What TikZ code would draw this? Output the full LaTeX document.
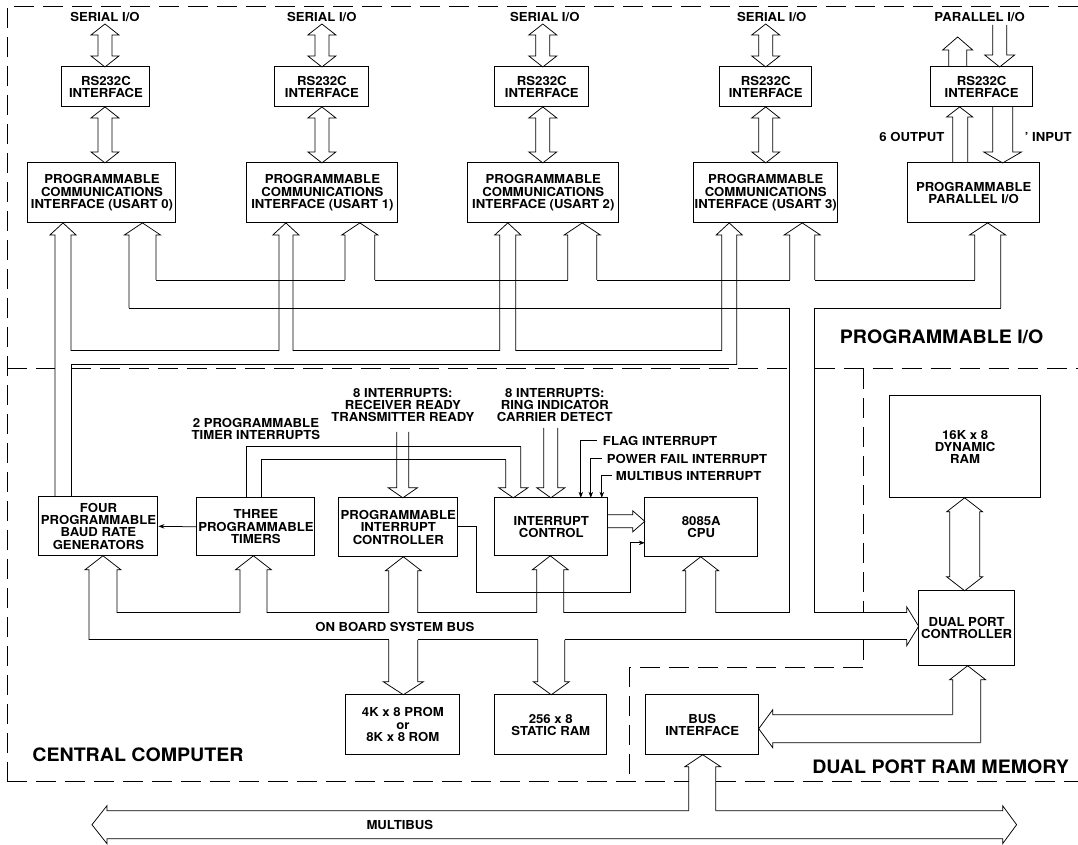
\documentclass[tikz,border=0pt]{standalone}
\usepackage{fontspec}
\setmainfont{TeX Gyre Heros}[BoldFeatures={FakeStretch=1.06}]
\usetikzlibrary{arrows.meta}
\newcommand{\dgmtxt}{\bfseries\fontsize{12.4}{12.3}\selectfont}
\newcommand{\dgmbig}{\bfseries\fontsize{18.5}{20}\selectfont}
% hollow up arrow: cx, tip y, half head width, head length, shaft left x, shaft right x, left end y, right end y
\newcommand{\uparr}[8]{\draw[bus] (#5,#7) -- (#5,{#2+#4}) -- ({#1-#3},{#2+#4}) -- (#1,#2) -- ({#1+#3},{#2+#4}) -- (#6,{#2+#4}) -- (#6,#8);}
\newcommand{\downarr}[8]{\draw[bus] (#5,#7) -- (#5,{#2-#4}) -- ({#1-#3},{#2-#4}) -- (#1,#2) -- ({#1+#3},{#2-#4}) -- (#6,{#2-#4}) -- (#6,#8);}
% hollow double vertical arrow: cx, top tip, bottom tip, half head width, head length, half shaft width
\newcommand{\dvarr}[6]{\draw[bus] (#1,#2) -- ({#1+#4},{#2+#5}) -- ({#1+#6},{#2+#5}) -- ({#1+#6},{#3-#5}) -- ({#1+#4},{#3-#5}) -- (#1,#3) -- ({#1-#4},{#3-#5}) -- ({#1-#6},{#3-#5}) -- ({#1-#6},{#2+#5}) -- ({#1-#4},{#2+#5}) -- cycle;}
\tikzset{
 box/.style={draw, line width=1pt, align=center, inner sep=0pt, font=\dgmtxt},
 lbl/.style={align=center, inner sep=0pt, font=\dgmtxt},
 big/.style={inner sep=0pt, font=\dgmbig},
 bus/.style={line width=0.75pt},
 dsh/.style={line width=0.8pt, dash pattern=on 20pt off 9pt},
 sarr/.style={line width=0.75pt, -{Stealth[length=6pt,width=4.5pt]}}
}
\begin{document}
\begin{tikzpicture}[x=1pt,y=-1pt]
\fill[white] (0,0) rectangle (1078,845);

% ---------------- boxes ----------------
\node[box, minimum width=88, minimum height=40] (rs1) at (106,87) {RS232C\\INTERFACE};
\node[box, minimum width=94, minimum height=40] (rs2) at (322,87) {RS232C\\INTERFACE};
\node[box, minimum width=94, minimum height=40] (rs3) at (542,87) {RS232C\\INTERFACE};
\node[box, minimum width=92, minimum height=40] (rs4) at (766,87) {RS232C\\INTERFACE};
\node[box, minimum width=102, minimum height=40] (rs5) at (982,87) {RS232C\\INTERFACE};

\node[box, minimum width=148, minimum height=60] (pci1) at (102,193) {PROGRAMMABLE\\COMMUNICATIONS\\INTERFACE (USART 0)};
\node[box, minimum width=151, minimum height=60] (pci2) at (322.5,193) {PROGRAMMABLE\\COMMUNICATIONS\\INTERFACE (USART 1)};
\node[box, minimum width=151, minimum height=60] (pci3) at (543.5,193) {PROGRAMMABLE\\COMMUNICATIONS\\INTERFACE (USART 2)};
\node[box, minimum width=144, minimum height=60] (pci4) at (766,193) {PROGRAMMABLE\\COMMUNICATIONS\\INTERFACE (USART 3)};
\node[box, minimum width=132, minimum height=60] (ppi) at (974,193) {PROGRAMMABLE\\PARALLEL I/O};

\node[box, minimum width=119, minimum height=59] (baud) at (98.5,526.5) {FOUR\\PROGRAMMABLE\\BAUD RATE\\GENERATORS};
\node[box, minimum width=118, minimum height=58] (timers) at (256,527) {THREE\\PROGRAMMABLE\\TIMERS};
\node[box, minimum width=119, minimum height=59] (pic) at (398.5,527.5) {PROGRAMMABLE\\INTERRUPT\\CONTROLLER};
\node[box, minimum width=113, minimum height=58] (ic) at (551.5,527) {INTERRUPT\\CONTROL};
\node[box, minimum width=113, minimum height=59] (cpu) at (701.5,527.5) {8085A\\CPU};
\node[box, minimum width=114, minimum height=60] (prom) at (403,725) {4K x 8 PROM\\or\\8K x 8 ROM};
\node[box, minimum width=112, minimum height=60] (sram) at (551,725) {256 x 8\\STATIC RAM};
\node[box, minimum width=113, minimum height=60] (busif) at (702.5,725) {BUS\\INTERFACE};
\node[box, minimum width=96, minimum height=75] (dpc) at (967,628.5) {DUAL PORT\\CONTROLLER};
\node[box, minimum width=151, minimum height=102] (dram) at (965.5,447) {16K x 8\\DYNAMIC\\RAM};

% ---------------- labels ----------------
\node[lbl] (s1) at (105,17) {SERIAL I/O};
\node[lbl] (s2) at (322,17) {SERIAL I/O};
\node[lbl] (s3) at (545,17) {SERIAL I/O};
\node[lbl] (s4) at (772,17) {SERIAL I/O};
\node[lbl] (pio) at (980,17) {PARALLEL I/O};
\node[lbl, anchor=east] (outl) at (945,137) {6 OUTPUT};
\node[lbl, anchor=west] (inl) at (1025,137) {' INPUT};
\node[lbl] (tintl) at (256,429) {2 PROGRAMMABLE\\TIMER INTERRUPTS};
\node[lbl] (rxl) at (403,405) {8 INTERRUPTS:\\RECEIVER READY\\TRANSMITTER READY};
\node[lbl] (ril) at (555,405) {8 INTERRUPTS:\\RING INDICATOR\\CARRIER DETECT};
\node[lbl, anchor=west] (flagl) at (603,441) {FLAG INTERRUPT};
\node[lbl, anchor=west] (pfl) at (607,459) {POWER FAIL INTERRUPT};
\node[lbl, anchor=west] (mbl) at (616,476) {MULTIBUS INTERRUPT};
\node[lbl] (obl) at (395,627) {ON BOARD SYSTEM BUS};
\node[lbl] (mbusl) at (400,825) {MULTIBUS};
\node[big] (pgio) at (942,337) {PROGRAMMABLE I/O};
\node[big] (cc) at (138,755) {CENTRAL COMPUTER};
\node[big] (dpr) at (941,767) {DUAL PORT RAM MEMORY};

% ---------------- region borders ----------------
\draw[dsh] (7,782) -- (7,6) -- (1078,6);
\draw[dsh] (7,782) -- (689,782);
\draw[dsh] (716,782) -- (1078,782);
\draw[dsh] (7,369) -- (55,369);
\draw[dsh] (71,369) -- (790,369);
\draw[dsh] (815,369) -- (1078,369);
\draw[dsh] (864,369) -- (864,613);
\draw[dsh] (864,640) -- (864,668) -- (630,668) -- (630,782);

% ---------------- serial links ----------------
\foreach \c in {105,322,543,766} {
  \dvarr{\c}{24}{67}{14}{11}{7}
  \dvarr{\c}{107}{163}{14}{11}{7}
}
% parallel links
\uparr{958}{37}{15}{13}{949}{967}{67}{67}
\downarr{1000}{67}{15}{12}{993}{1007}{25}{25}
\uparr{960}{107}{13}{10}{953}{968}{163}{163}
\downarr{1003}{163}{19}{11}{993}{1013}{107}{107}

% ---------------- I/O buses ----------------
\uparr{63}{223}{13}{12}{55}{71}{497}{351}
\uparr{142.5}{223}{18}{12}{129}{156}{308}{280}
\uparr{286}{223}{13}{12}{279}{293}{351}{351}
\uparr{360}{223}{18}{12}{345}{375}{280}{280}
\uparr{508}{223}{13}{12}{500}{516}{351}{351}
\uparr{582.5}{223}{18}{12}{568}{597}{280}{280}
\uparr{729.5}{223}{13}{12}{722}{737}{351}{365}
\uparr{802.5}{223}{18}{12}{790}{815}{280}{280}
\uparr{988}{223}{18}{12}{975}{1001}{280}{308}
% wide data bus
\draw[bus] (156,280) -- (345,280) (375,280) -- (568,280) (597,280) -- (790,280) (815,280) -- (975,280);
\draw[bus] (129,308) -- (790,308) -- (790,613);
\draw[bus] (1001,308) -- (815,308) -- (815,613);
% narrow clock bus
\draw[bus] (71,351) -- (279,351) (293,351) -- (500,351) (516,351) -- (722,351);
\draw[bus] (737,365) -- (71,365) -- (71,497);

% ---------------- interrupts ----------------
\draw[sarr] (timers.west) -- (baud.east);
\draw[bus] (246,498) -- (246,447) -- (521,447);
\draw[bus] (261,498) -- (261,460) -- (506,460);
\downarr{513.5}{498}{14.5}{10}{506}{521}{460}{447}
\downarr{403}{498}{14.5}{10}{397}{409}{432}{432}
\downarr{551}{498}{14}{10}{544}{558}{428}{428}
\draw[sarr] (597,441) -- (581,441) -- (581,498);
\draw[sarr] (602,459) -- (591,459) -- (591,498);
\draw[sarr] (612,476) -- (602,476) -- (602,498);
\draw[bus] (608,515) -- (633,515) -- (633,511) -- (645,521.5) -- (633,532) -- (633,528) -- (608,528);
\draw[sarr] (458,527) -- (477,527) -- (477,593) -- (631,593) -- (631,543) -- (645,543);

% ---------------- on board system bus ----------------
\uparr{103}{556}{18}{14}{89}{117}{640}{613}
\uparr{253.5}{556}{18}{14}{240}{267}{613}{613}
\uparr{403.5}{557}{18}{14}{389}{418}{613}{613}
\uparr{550.5}{556}{18}{14}{537}{564}{613}{613}
\uparr{701}{557}{18}{14}{686}{716}{613}{613}
\downarr{403.5}{695}{20}{13}{389}{418}{640}{640}
\downarr{551.5}{695}{18}{13}{538}{565}{640}{640}
\draw[bus] (117,613) -- (240,613) (267,613) -- (389,613) (418,613) -- (537,613) (564,613) -- (686,613) (716,613) -- (790,613) (815,613) -- (907,613);
\draw[bus] (89,640) -- (389,640) (418,640) -- (538,640) (565,640) -- (907,640);
\draw[bus] (907,613) -- (907,607) -- (919,626.5) -- (907,646) -- (907,640);

% ---------------- dual port memory ----------------
\dvarr{965}{498}{591}{18}{14}{15}
\uparr{968}{666}{18}{14}{953}{981}{715}{743}
\draw[bus] (953,715) -- (773,715) -- (773,710) -- (759,729) -- (773,748) -- (773,743) -- (981,743);
\uparr{703}{755}{18}{12}{689}{716}{811}{811}
\draw[bus] (689,811) -- (107,811) -- (107,806) -- (92,825) -- (107,844) -- (107,839) -- (1003,839) -- (1003,844) -- (1017,825) -- (1003,806) -- (1003,811) -- (716,811);
\end{tikzpicture}
\end{document}
